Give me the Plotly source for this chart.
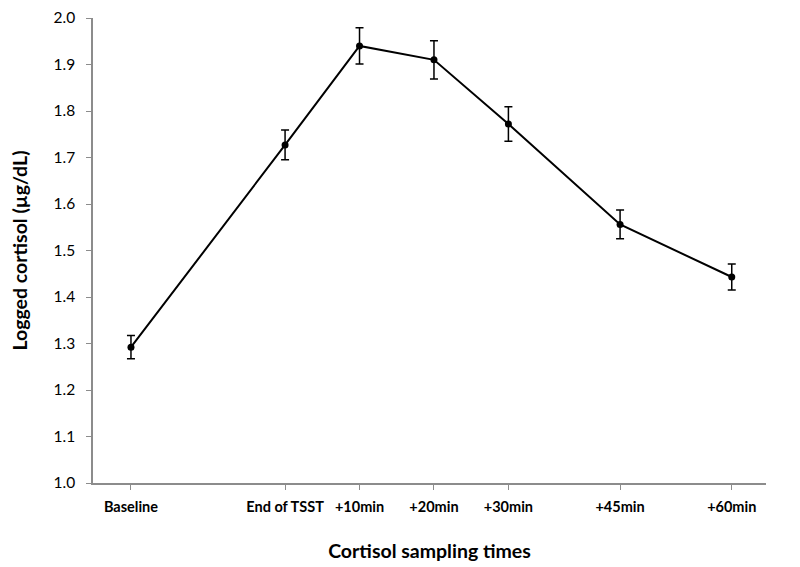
import plotly.graph_objects as go

# Tempi di campionamento (minuti rispetto alla fine del TSST) e relative etichette
sample_minutes = [-20.7, 0, 10, 20, 30, 45, 60]
sample_labels = ["Baseline", "End of TSST", "+10min", "+20min", "+30min", "+45min", "+60min"]

# Cortisolo logaritmico medio e barre d'errore (SE)
log_cortisol = [1.292, 1.727, 1.940, 1.910, 1.772, 1.556, 1.443]
log_cortisol_err = [0.025, 0.032, 0.039, 0.041, 0.037, 0.031, 0.028]

AXIS_GREY = "#8c8c8c"
FONT = "Lato, 'Open Sans', sans-serif"

fig = go.Figure()

fig.add_trace(go.Scatter(
    x=sample_minutes, y=log_cortisol,
    mode="lines+markers",
    line=dict(color="black", width=2),
    marker=dict(color="black", size=7),
    error_y=dict(type="data", array=log_cortisol_err, visible=True,
                 color="black", thickness=1.5, width=4),
    showlegend=False,
))

# margini compensati per l'offset del body della pagina (~7px)
fig.update_layout(
    width=800, height=567,
    paper_bgcolor="white", plot_bgcolor="white",
    margin=dict(l=85, r=42, t=10, b=92),
    font=dict(family=FONT, color="black"),
    xaxis=dict(
        range=[-25.8, 64.6], automargin=False,
        tickmode="array", tickvals=sample_minutes, ticktext=sample_labels,
        tickfont=dict(size=14.5, family=FONT, weight="bold"),
        ticks="outside", ticklen=5, tickcolor=AXIS_GREY,
        showline=True, linecolor=AXIS_GREY, linewidth=1.5,
        showgrid=False, zeroline=False,
        ticklabelstandoff=5,
        title=dict(text="<b>Cortisol sampling times</b>", font=dict(size=19.5), standoff=30),
    ),
    yaxis=dict(
        range=[1.0, 2.0], automargin=False,
        tickmode="linear", tick0=1.0, dtick=0.1, tickformat=".1f",
        tickfont=dict(size=15.5, family=FONT),
        ticks="outside", ticklen=5, tickcolor=AXIS_GREY,
        showline=True, linecolor=AXIS_GREY, linewidth=1.5,
        showgrid=False, zeroline=False,
        ticklabelstandoff=8,
        title=dict(text="<b>Logged cortisol (µg/dL)</b>", font=dict(size=19.5), standoff=24),
    ),
)

fig.write_html("out.html")
